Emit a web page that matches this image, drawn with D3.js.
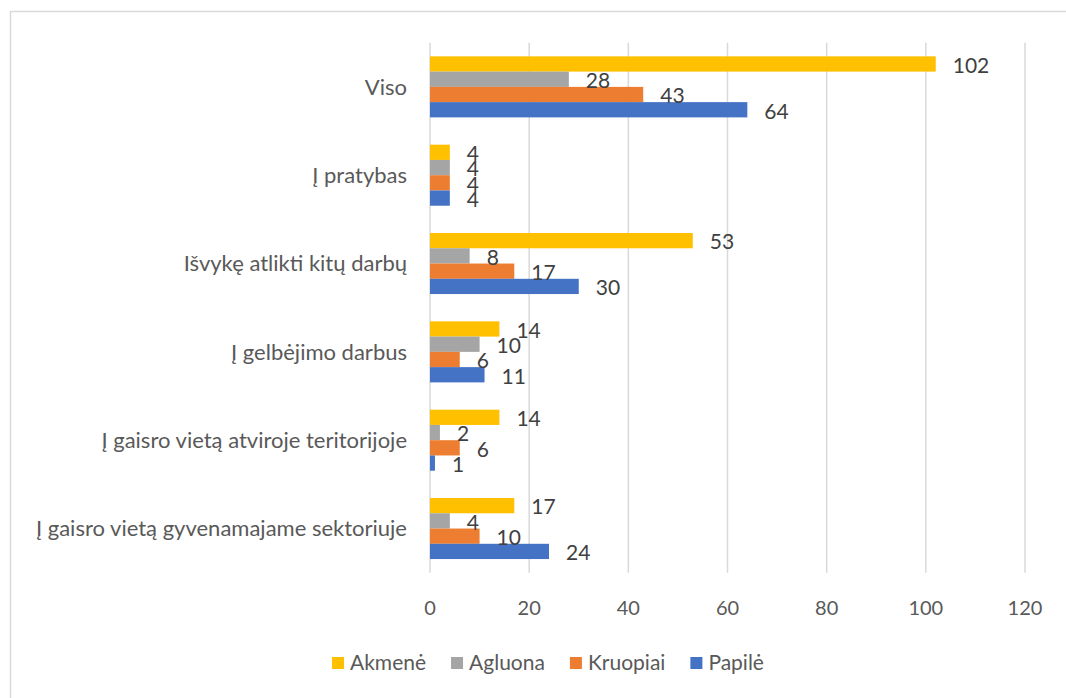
<!DOCTYPE html>
<html>
<head>
<meta charset="utf-8">
<script src="https://cdn.jsdelivr.net/npm/d3@7"></script>
<style>
  body { margin: 0; background: #fff; }
  text { font-family: Lato, "Open Sans", sans-serif; }
</style>
</head>
<body>
<div id="chart"></div>
<script>
// categories, top to bottom
var categories = ["Viso", "Į pratybas", "Išvykę atlikti kitų darbų", "Į gelbėjimo darbus",
  "Į gaisro vietą atviroje teritorijoje", "Į gaisro vietą gyvenamajame sektoriuje"];
var seriesNames = ["Akmenė", "Agluona", "Kruopiai", "Papilė"];
var akmene   = [102, 4, 53, 14, 14, 17];
var agluona  = [28, 4, 8, 10, 2, 4];
var kruopiai = [43, 4, 17, 6, 6, 10];
var papile   = [64, 4, 30, 11, 1, 24];
var xTicks = [0, 20, 40, 60, 80, 100, 120];
var colors = ["#FFC000", "#A5A5A5", "#ED7D31", "#4472C4"];

var allValues = [akmene, agluona, kruopiai, papile];
var data = [];
categories.forEach(function(c, i) {
  seriesNames.forEach(function(s, j) {
    data.push({cat: c, series: s, value: allValues[j][i]});
  });
});

var W = 1066, H = 698;
var margin = {top: 42.7, left: 430, right: 41, bottom: 125.3};

var svg = d3.select("#chart").append("svg")
    .attr("width", W)
    .attr("height", H);

// outer chart border
svg.append("rect")
    .attr("x", 10.5).attr("y", 11.5)
    .attr("width", W + 20).attr("height", H + 20)
    .attr("fill", "none")
    .attr("stroke", "#d9d9d9")
    .attr("stroke-width", 1.5);

var x = d3.scaleLinear()
    .domain([0, 120])
    .range([margin.left, W - margin.right]);

var y0 = d3.scaleBand()
    .domain(categories)
    .range([margin.top, H - margin.bottom])
    .paddingInner(0.309)
    .paddingOuter(0.1545);

var y1 = d3.scaleBand()
    .domain(seriesNames)
    .range([0, y0.bandwidth()]);

var color = d3.scaleOrdinal().domain(seriesNames).range(colors);

// gridlines
svg.append("g")
  .selectAll("line")
  .data(xTicks)
  .join("line")
    .attr("x1", d => x(d)).attr("x2", d => x(d))
    .attr("y1", margin.top).attr("y2", H - margin.bottom)
    .attr("stroke", "#d9d9d9")
    .attr("stroke-width", 1.5);

// x tick labels
svg.append("g")
  .selectAll("text")
  .data(xTicks)
  .join("text")
    .attr("x", d => x(d))
    .attr("y", 608)
    .attr("dy", "0.35em")
    .attr("text-anchor", "middle")
    .attr("fill", "#595959")
    .style("font-size", "20px")
    .text(d => d);

// category labels
svg.append("g")
  .selectAll("text")
  .data(categories)
  .join("text")
    .attr("x", 407)
    .attr("y", d => y0(d) + y0.bandwidth() / 2)
    .attr("dy", "0.35em")
    .attr("text-anchor", "end")
    .attr("fill", "#595959")
    .style("font-size", "22px")
    .text(d => d);

// bars
svg.append("g")
  .selectAll("rect")
  .data(data)
  .join("rect")
    .attr("x", x(0))
    .attr("y", d => y0(d.cat) + y1(d.series))
    .attr("width", d => x(d.value) - x(0))
    .attr("height", y1.bandwidth())
    .attr("fill", d => color(d.series));

// value labels
svg.append("g")
  .selectAll("text")
  .data(data)
  .join("text")
    .attr("x", d => x(d.value) + 17)
    .attr("y", d => y0(d.cat) + y1(d.series) + y1.bandwidth() / 2 + 1.5)
    .attr("dy", "0.35em")
    .attr("fill", "#404040")
    .style("font-size", "21px")
    .text(d => d.value);

// legend
var legend = svg.append("g");
var lx = 0;
seriesNames.forEach(function(s) {
  legend.append("rect")
    .attr("x", lx).attr("y", 657)
    .attr("width", 12).attr("height", 12)
    .attr("fill", color(s));
  var t = legend.append("text")
    .attr("x", lx + 18).attr("y", 663)
    .attr("dy", "0.35em")
    .attr("fill", "#595959")
    .style("font-size", "21px")
    .text(s);
  lx += 18 + t.node().getComputedTextLength() + 25;
});
var legendW = lx - 25;
legend.attr("transform", `translate(${548 - legendW / 2}, 0)`);
</script>
</body>
</html>
